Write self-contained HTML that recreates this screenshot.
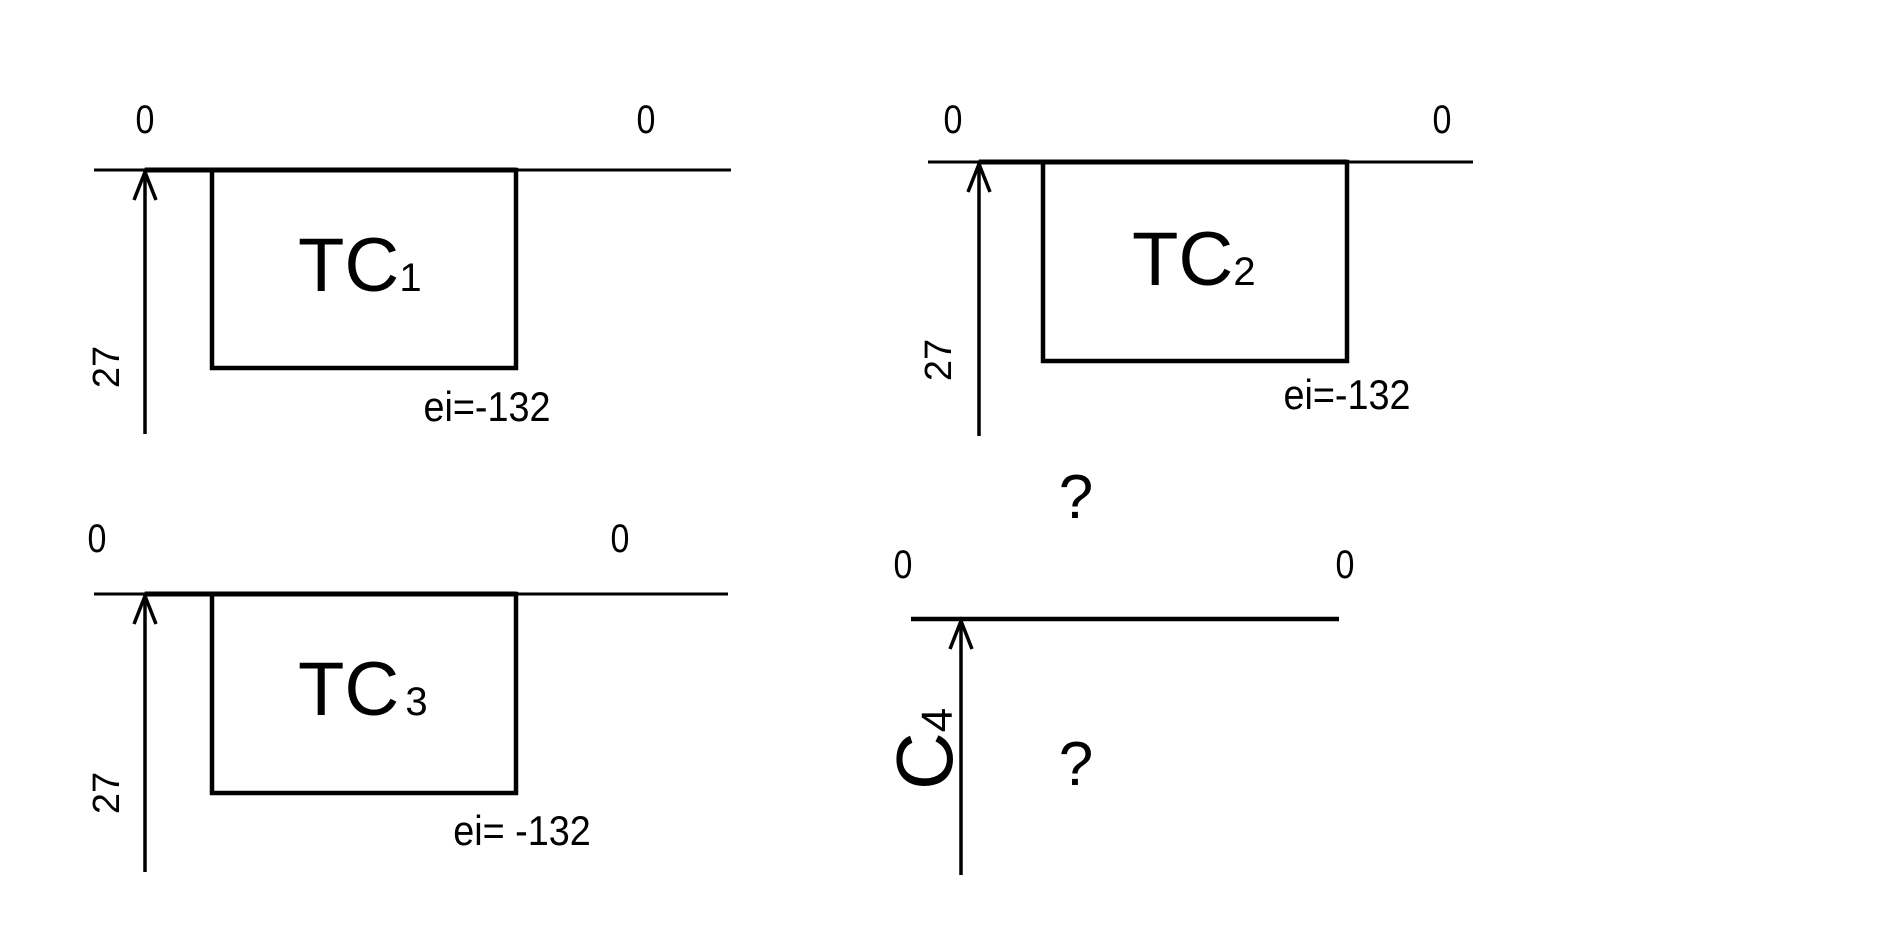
<!DOCTYPE html>
<html><head><meta charset="utf-8"><style>html,body{margin:0;padding:0;background:#fff}svg{display:block}</style></head>
<body>
<svg width="1890" height="945" viewBox="0 0 1890 945" xmlns="http://www.w3.org/2000/svg" font-family="Liberation Sans, sans-serif" fill="#000">
<g stroke="#000" fill="none" stroke-linecap="butt">
<line x1="94" y1="170" x2="731" y2="170" stroke-width="3"/>
<line x1="145" y1="170" x2="516" y2="170" stroke-width="5"/>
<rect x="212" y="170" width="304" height="198" stroke-width="4.5"/>
<line x1="145" y1="434" x2="145" y2="171" stroke-width="3.5"/>
<polyline points="134,200 145,172 156,200" stroke-width="3.5"/>
<line x1="928" y1="162" x2="1473" y2="162" stroke-width="3"/>
<line x1="979" y1="162" x2="1347" y2="162" stroke-width="5"/>
<rect x="1043" y="162" width="304" height="199" stroke-width="4.5"/>
<line x1="979" y1="436" x2="979" y2="163" stroke-width="3.5"/>
<polyline points="968,192 979,164 990,192" stroke-width="3.5"/>
<line x1="94" y1="594" x2="728" y2="594" stroke-width="3"/>
<line x1="145" y1="594" x2="516" y2="594" stroke-width="5"/>
<rect x="212" y="594" width="304" height="199" stroke-width="4.5"/>
<line x1="145" y1="872" x2="145" y2="595" stroke-width="3.5"/>
<polyline points="134,624 145,596 156,624" stroke-width="3.5"/>
<line x1="911" y1="619" x2="1339" y2="619" stroke-width="4.5"/>
<line x1="961" y1="875" x2="961" y2="620" stroke-width="3.5"/>
<polyline points="950,649 961,621 972,649" stroke-width="3.5"/>
</g>
<g font-size="40" text-anchor="middle">
<text transform="translate(145,133) scale(0.85,1)">0</text><text transform="translate(646,133) scale(0.85,1)">0</text>
<text transform="translate(953,133) scale(0.85,1)">0</text><text transform="translate(1442,133) scale(0.85,1)">0</text>
<text transform="translate(97,552) scale(0.85,1)">0</text><text transform="translate(620,552) scale(0.85,1)">0</text>
<text transform="translate(903,578) scale(0.85,1)">0</text><text transform="translate(1345,578) scale(0.85,1)">0</text>
</g>
<g font-size="38" text-anchor="middle">
<text transform="translate(119,367) rotate(-90)">27</text>
<text transform="translate(951,360) rotate(-90)">27</text>
<text transform="translate(119,793) rotate(-90)">27</text>
</g>
<g font-size="42" text-anchor="middle">
<text transform="translate(487,421) scale(0.9,1)">ei=-132</text>
<text transform="translate(1347,409) scale(0.9,1)">ei=-132</text>
<text transform="translate(522,845) scale(0.9,1)">ei= -132</text>
</g>
<g font-size="76">
<text x="298" y="291">TC<tspan font-size="40">1</tspan></text>
<text x="1132" y="285">TC<tspan font-size="40">2</tspan></text>
<text x="298" y="715">TC<tspan font-size="40" dx="6">3</tspan></text>
</g>
<text transform="translate(952,790) rotate(-90)" font-size="80">C<tspan font-size="44">4</tspan></text>
<g font-size="62" text-anchor="middle">
<text x="1076" y="518">?</text>
<text x="1076" y="785">?</text>
</g>
</svg>
</body></html>
